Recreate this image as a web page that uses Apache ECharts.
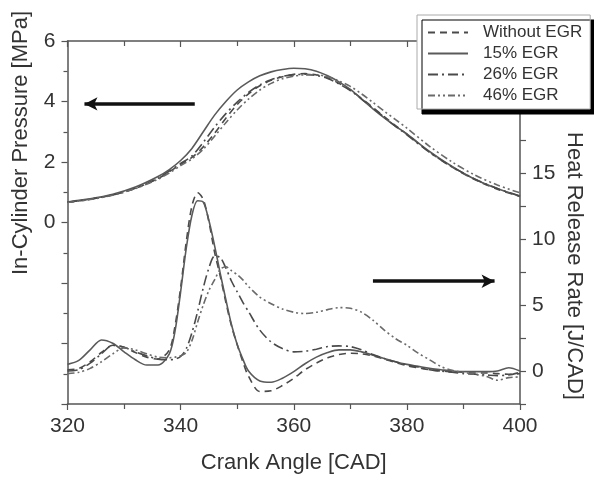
<!DOCTYPE html>
<html>
<head>
<meta charset="utf-8">
<script src="https://cdn.jsdelivr.net/npm/echarts@6/dist/echarts.min.js"></script>
<style>
  html, body { margin: 0; padding: 0; background: #fff; }
  #main { width: 594px; height: 479px; }
</style>
</head>
<body>
<div id="main"></div>
<script>
// legend / series names
var seriesNames = ['Without EGR', '15% EGR', '26% EGR', '46% EGR'];

// tick labels shown on the axes
var xTickLabels = [320, 340, 360, 380, 400];
var leftTickLabels = [0, 2, 4, 6];
var rightTickLabels = [0, 5, 10, 15];

// in-cylinder pressure [MPa]
var pressureAngle = [320, 324, 328, 332, 336, 338, 340, 342, 344, 346, 348, 350, 352, 354, 356, 358, 360, 362, 364, 366, 368, 370, 372, 374, 376, 378, 380, 384, 388, 392, 396, 400];
var pWithout = [0.67, 0.77, 0.91, 1.13, 1.45, 1.68, 1.92, 2.15, 2.5, 2.95, 3.45, 3.9, 4.25, 4.52, 4.7, 4.82, 4.9, 4.92, 4.88, 4.78, 4.6, 4.38, 4.1, 3.8, 3.5, 3.2, 2.92, 2.33, 1.83, 1.42, 1.1, 0.86];
var p15 = [0.68, 0.78, 0.93, 1.17, 1.52, 1.75, 2.05, 2.45, 3.0, 3.55, 4.0, 4.38, 4.65, 4.85, 4.98, 5.06, 5.1, 5.08, 5.0, 4.85, 4.65, 4.4, 4.08, 3.76, 3.46, 3.18, 2.93, 2.35, 1.85, 1.43, 1.12, 0.87];
var p26 = [0.67, 0.77, 0.91, 1.13, 1.46, 1.7, 1.95, 2.2, 2.65, 3.15, 3.6, 3.98, 4.3, 4.55, 4.72, 4.83, 4.88, 4.9, 4.86, 4.76, 4.58, 4.36, 4.08, 3.78, 3.48, 3.18, 2.9, 2.32, 1.84, 1.44, 1.12, 0.88];
var p46 = [0.66, 0.76, 0.9, 1.12, 1.43, 1.64, 1.88, 2.1, 2.42, 2.85, 3.3, 3.72, 4.08, 4.38, 4.6, 4.75, 4.84, 4.88, 4.88, 4.82, 4.68, 4.5, 4.25, 3.97, 3.68, 3.4, 3.12, 2.52, 2.0, 1.57, 1.24, 0.98];

// heat release rate [J/CAD]
var hrrAngle = [320, 322, 324, 326, 328, 330, 332, 334, 336, 338, 339, 340, 341, 342, 343, 344, 345, 346, 347, 348, 349, 350, 351, 352, 354, 356, 358, 360, 362, 364, 366, 368, 370, 372, 374, 376, 378, 380, 382, 384, 386, 388, 390, 392, 394, 396, 398, 400];
var hWithout = [0.1, 0.2, 0.7, 1.4, 1.95, 1.8, 1.4, 1.05, 0.9, 1.6, 3.4, 6.3, 9.8, 12.5, 13.5, 13.0, 11.3, 9.0, 7.2, 5.2, 3.4, 2.0, 0.7, -0.4, -1.55, -1.5, -1.1, -0.55, 0.1, 0.6, 1.0, 1.25, 1.35, 1.3, 1.15, 0.9, 0.65, 0.4, 0.25, 0.1, 0.0, -0.05, -0.1, -0.15, -0.15, -0.2, -0.25, -0.2];
var h15 = [0.5, 0.8, 1.6, 2.35, 2.1, 1.45, 0.85, 0.45, 0.45, 1.3, 3.0, 6.0, 9.3, 11.8, 12.9, 12.8, 11.4, 9.5, 7.4, 5.4, 3.5, 2.0, 0.9, 0.0, -0.75, -0.85, -0.55, -0.05, 0.55, 1.05, 1.4, 1.6, 1.6, 1.45, 1.2, 0.95, 0.7, 0.5, 0.35, 0.2, 0.1, 0.0, -0.05, -0.05, -0.05, 0.0, 0.25, 0.0];
var h26 = [0.0, 0.1, 0.6, 1.3, 1.95, 1.8, 1.45, 1.15, 0.9, 0.85, 0.9, 1.1, 1.7, 2.9, 4.5, 6.3, 7.8, 8.7, 8.6, 7.8, 6.8, 6.0, 5.2, 4.5, 3.1, 2.2, 1.7, 1.45, 1.5, 1.65, 1.85, 1.9, 1.85, 1.6, 1.25, 0.95, 0.7, 0.45, 0.3, 0.1, 0.0, -0.1, -0.2, -0.25, -0.3, -0.35, -0.3, -0.1];
var h46 = [-0.2, -0.1, 0.2, 0.7, 1.3, 1.75, 1.6, 1.3, 1.05, 1.0, 1.05, 1.15, 1.4, 2.3, 3.7, 5.0, 6.1, 6.9, 7.7, 7.9, 7.6, 7.3, 6.9, 6.4, 5.6, 5.1, 4.7, 4.45, 4.35, 4.45, 4.65, 4.8, 4.75, 4.45, 3.85, 3.1, 2.45, 1.95, 1.35, 0.85, 0.35, 0.05, -0.1, -0.25, -0.4, -0.7, -0.5, -0.45];

var pressureSets = [pWithout, p15, p26, p46];
var hrrSets = [hWithout, h15, h26, h46];
var lineTypes = [[7, 5], 'solid', [10, 4, 2, 4], [7, 3, 2, 3, 2, 3]];
var lineColors = ['#4a4a4a', '#5a5a5a', '#4a4a4a', '#6a6a6a'];

function pairs(xs, ys) {
    return xs.map(function (x, i) { return [x, ys[i]]; });
}

var myChart = echarts.init(document.getElementById('main'));

var series = [];
seriesNames.forEach(function (name, i) {
    series.push({
        name: name,
        type: 'line',
        xAxisIndex: 0,
        yAxisIndex: 0,
        symbol: 'none',
        smooth: 0.3,
        lineStyle: { type: lineTypes[i], color: lineColors[i], width: 1.6 },
        itemStyle: { color: lineColors[i] },
        data: pairs(pressureAngle, pressureSets[i])
    });
});
seriesNames.forEach(function (name, i) {
    series.push({
        name: name,
        type: 'line',
        xAxisIndex: 0,
        yAxisIndex: 1,
        symbol: 'none',
        smooth: 0.3,
        lineStyle: { type: lineTypes[i], color: lineColors[i], width: 1.6 },
        itemStyle: { color: lineColors[i] },
        data: pairs(hrrAngle, hrrSets[i])
    });
});

// arrows pointing to the axis each curve group belongs to
series[0].markLine = {
    silent: true,
    animation: false,
    label: { show: false },
    lineStyle: { color: '#111', width: 3.5, type: 'solid' },
    data: [[
        { coord: [342.5, 3.92], symbol: 'none' },
        { coord: [323, 3.92], symbol: 'arrow', symbolSize: [10, 13] }
    ]]
};
series[4].markLine = {
    silent: true,
    animation: false,
    label: { show: false },
    lineStyle: { color: '#111', width: 3.5, type: 'solid' },
    data: [[
        { coord: [374, 6.8], symbol: 'none' },
        { coord: [395.5, 6.8], symbol: 'arrow', symbolSize: [10, 13] }
    ]]
};

var axisColor = '#555';
var labelColor = '#333';
var font = 'Arial, "Liberation Sans", sans-serif';

var option = {
    animation: false,
    textStyle: { fontFamily: font },
    grid: { left: 67.5, right: 74, top: 41, bottom: 72 },
    legend: {
        data: seriesNames,
        orient: 'vertical',
        left: 417,
        top: 15,
        padding: [9, 8, 5, 10],
        itemGap: 4,
        itemWidth: 40,
        itemHeight: 14,
        backgroundColor: '#fff',
        borderColor: '#aaa',
        borderWidth: 1,
        shadowColor: '#000',
        shadowBlur: 0,
        shadowOffsetX: 5,
        shadowOffsetY: 5,
        itemStyle: { color: 'rgba(0,0,0,0)', borderWidth: 0, opacity: 0 },
        textStyle: { fontSize: 17, color: labelColor, fontFamily: font, padding: [0, 0, 0, 10] }
    },
    xAxis: [{
        type: 'value',
        position: 'bottom',
        min: 320,
        max: 400,
        interval: 20,
        name: 'Crank Angle [CAD]',
        nameLocation: 'middle',
        nameGap: 48,
        nameTextStyle: { fontSize: 22, color: labelColor, fontFamily: font },
        axisLine: { onZero: false, lineStyle: { color: axisColor, width: 1.5 } },
        axisTick: { length: 6, lineStyle: { color: axisColor, width: 1.2 } },
        minorTick: { show: true, splitNumber: 2, length: 5, lineStyle: { color: axisColor, width: 1.2 } },
        axisLabel: {
            fontSize: 21, color: labelColor, margin: 12,
            formatter: function (v) { return xTickLabels.indexOf(v) >= 0 ? String(v) : ''; }
        },
        splitLine: { show: false }
    }, {
        type: 'value',
        position: 'top',
        min: 320,
        max: 400,
        interval: 20,
        axisLine: { onZero: false, lineStyle: { color: axisColor, width: 1.5 } },
        axisTick: { inside: true, length: 6, lineStyle: { color: axisColor, width: 1.2 } },
        minorTick: { show: true, splitNumber: 2, length: 5, lineStyle: { color: axisColor, width: 1.2 } },
        axisLabel: { show: false },
        splitLine: { show: false }
    }],
    yAxis: [{
        type: 'value',
        position: 'left',
        min: -6,
        max: 6,
        interval: 2,
        axisLine: { show: true, onZero: false, lineStyle: { color: axisColor, width: 1.5 } },
        axisTick: { show: true, length: 6, lineStyle: { color: axisColor, width: 1.2 } },
        minorTick: { show: true, splitNumber: 2, length: 4, lineStyle: { color: axisColor, width: 1.2 } },
        axisLabel: {
            fontSize: 21, color: labelColor, margin: 12,
            formatter: function (v) { return leftTickLabels.indexOf(v) >= 0 ? String(v) : ''; }
        },
        splitLine: { show: false }
    }, {
        type: 'value',
        position: 'right',
        min: -2.5,
        max: 25,
        interval: 2.5,
        axisLine: { show: true, onZero: false, lineStyle: { color: axisColor, width: 1.5 } },
        axisTick: { show: true, length: 6, lineStyle: { color: axisColor, width: 1.2 } },
        axisLabel: {
            fontSize: 21, color: labelColor, margin: 12,
            formatter: function (v) { return rightTickLabels.indexOf(v) >= 0 ? String(v) : ''; }
        },
        splitLine: { show: false }
    }],
    graphic: [{
        type: 'text',
        x: 21,
        y: 143,
        rotation: Math.PI / 2,
        style: {
            text: 'In-Cylinder Pressure [MPa]',
            x: 0, y: 0,
            textAlign: 'center',
            textVerticalAlign: 'middle',
            font: '22px ' + font,
            fill: labelColor
        }
    }, {
        type: 'text',
        x: 574,
        y: 266,
        rotation: -Math.PI / 2,
        style: {
            text: 'Heat Release Rate [J/CAD]',
            x: 0, y: 0,
            textAlign: 'center',
            textVerticalAlign: 'middle',
            font: '22px ' + font,
            fill: labelColor
        }
    }],
    series: series
};

myChart.setOption(option);
window.onresize = myChart.resize;
</script>
</body>
</html>
